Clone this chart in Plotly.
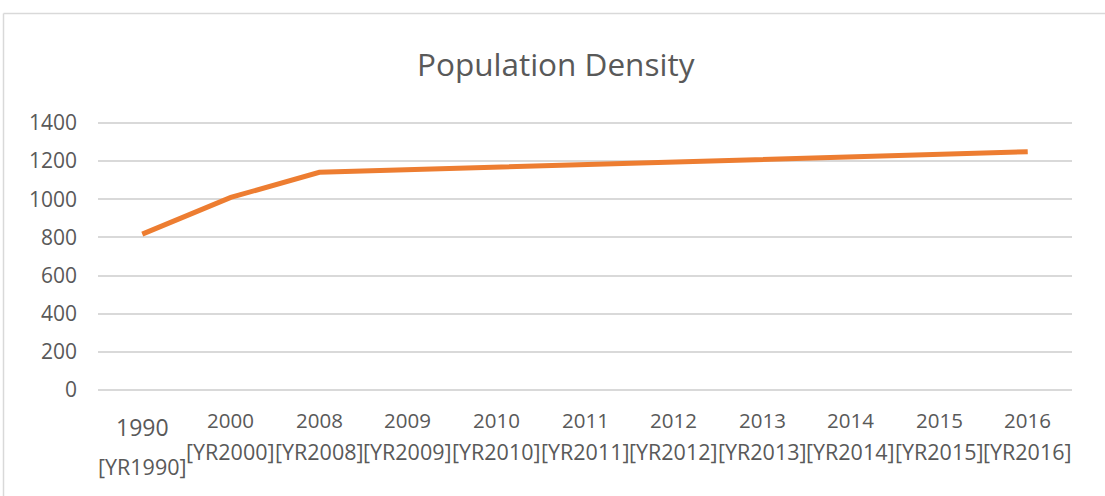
import plotly.graph_objects as go

# Population density by year
years = ["1990", "2000", "2008", "2009", "2010", "2011", "2012", "2013", "2014", "2015", "2016"]
codes = ["[YR1990]", "[YR2000]", "[YR2008]", "[YR2009]", "[YR2010]", "[YR2011]",
         "[YR2012]", "[YR2013]", "[YR2014]", "[YR2015]", "[YR2016]"]
density = [817, 1010, 1141, 1155, 1169, 1183, 1197, 1211, 1225, 1238, 1249]
y_ticks = [0, 200, 400, 600, 800, 1000, 1200, 1400]
y_range = [-10, 1410]

W, H = 1105, 496
L, R, T, B = 98, 33, 121, 104
FONT = "Open Sans"
TXT = "#595959"
GRID = "#d9d9d9"

fig = go.Figure()
fig.add_trace(go.Scatter(
    x=years, y=density, mode="lines",
    line=dict(color="#ED7D31", width=5),
    hoverinfo="x+y", showlegend=False,
))

pw = W - L - R
ph = H - T - B


def px_x(p):
    return (p - L) / pw


def px_y(p):
    return (H - B - p) / ph


annotations = []
# category labels: positional index on the category axis
for i, (yr, code) in enumerate(zip(years, codes)):
    first = i == 0
    annotations.append(dict(
        x=i, xref="x", y=px_y(427 if first else 420), yref="paper",
        text=yr, showarrow=False, yanchor="middle",
        font=dict(family=FONT, size=23 if first else 20.5, color=TXT),
    ))
    annotations.append(dict(
        x=i, xref="x", y=px_y(466 if first else 451), yref="paper",
        text=code, showarrow=False, yanchor="middle",
        font=dict(family=FONT, size=21.5, color=TXT),
    ))

annotations.append(dict(
    x=px_x(556), xref="paper", y=px_y(64), yref="paper",
    text="Population Density", showarrow=False, yanchor="middle",
    font=dict(family=FONT, size=31.5, color=TXT),
))

shapes = [
    # chart area border (left and top edges)
    dict(type="line", xref="paper", yref="paper",
         x0=px_x(3.5), x1=px_x(3.5), y0=px_y(13.5), y1=px_y(H + 5),
         line=dict(color=GRID, width=1.5)),
    dict(type="line", xref="paper", yref="paper",
         x0=px_x(3.5), x1=px_x(W + 5), y0=px_y(13.5), y1=px_y(13.5),
         line=dict(color=GRID, width=1.5)),
]

fig.update_layout(
    width=W, height=H,
    margin=dict(l=L, r=R, t=T, b=B),
    paper_bgcolor="white", plot_bgcolor="white",
    font=dict(family=FONT, color=TXT),
    annotations=annotations,
    shapes=shapes,
    xaxis=dict(
        type="category", range=[-0.5, len(years) - 0.5],
        showticklabels=False, showgrid=False, zeroline=False,
        showline=False, ticks="", fixedrange=True,
    ),
    yaxis=dict(
        range=y_range, tickvals=y_ticks,
        showgrid=True, gridcolor=GRID, gridwidth=1.5,
        zeroline=True, zerolinecolor=GRID, zerolinewidth=1.5,
        showline=False, ticks="",
        tickfont=dict(family=FONT, size=21, color=TXT),
        ticklabelstandoff=20, fixedrange=True,
    ),
)

fig.write_html("out.html")
